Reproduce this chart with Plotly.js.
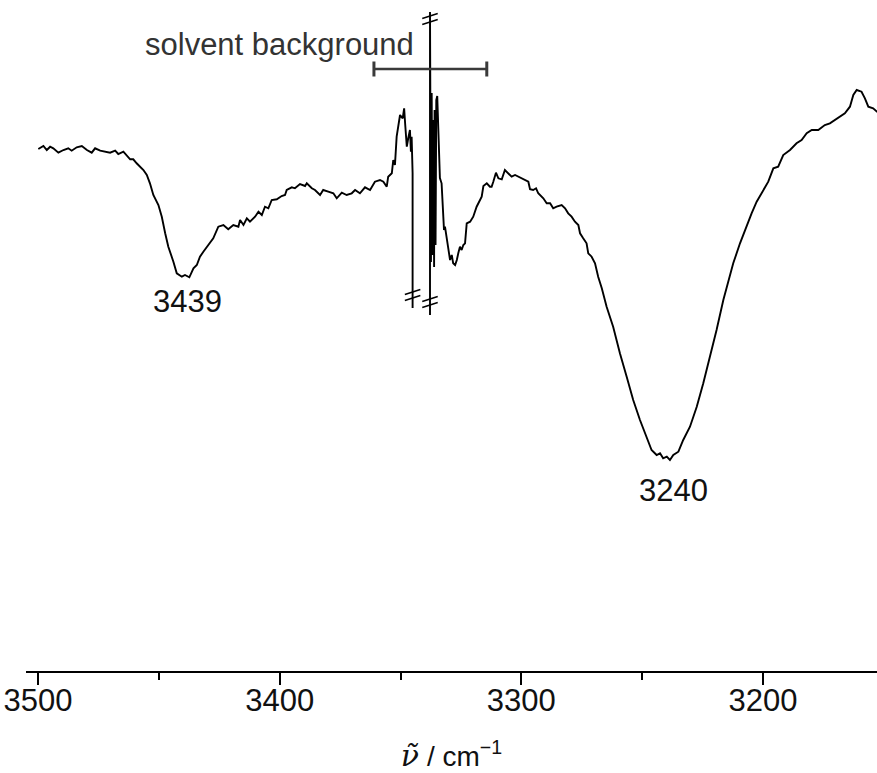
<!DOCTYPE html>
<html>
<head>
<meta charset="utf-8">
<script src="https://cdn.plot.ly/plotly-3.0.1.min.js"></script>
<style>html,body{margin:0;padding:0;background:#fff;}#chart{width:877px;height:773px;}</style>
</head>
<body>
<div id="chart"></div>
<script>
// IR spectrum, wavenumber (cm^-1) vs transmittance (arbitrary units); null = off-scale break
const wavenumber = [
3499.9,3497.8,3496.4,3495.0,3493.7,3491.6,3489.5,3487.5,3486.1,3484.0,
3481.9,3479.8,3477.8,3476.4,3474.3,3472.3,3470.2,3468.1,3466.8,3464.7,
3463.3,3461.9,3460.6,3459.2,3456.4,3455.0,3453.7,3452.3,3450.2,3448.8,
3447.4,3446.1,3444.0,3442.6,3440.5,3439.2,3437.4,3435.7,3434.3,3433.0,
3431.6,3430.2,3427.5,3425.4,3423.3,3421.3,3419.2,3417.1,3416.4,3415.0,
3413.6,3412.3,3410.2,3408.8,3407.4,3406.1,3404.7,3403.3,3401.2,3399.2,
3397.8,3397.1,3395.0,3393.7,3391.6,3389.5,3388.8,3386.7,3385.4,3383.3,
3382.0,3379.9,3377.8,3376.4,3374.3,3372.3,3370.2,3368.8,3366.8,3364.7,
3362.6,3360.6,3358.5,3357.1,3355.7,3355.1,3353.6,3353.0,3352.3,3351.6,
3350.9,3350.2,3349.1,3348.5,3348.1,3347.4,3346.8,3346.1,3345.7,3345.4,
3345.0,3345.0,null,
3337.8,3337.8,3337.4,3337.1,3336.8,3336.4,3336.1,3335.9,3335.5,3335.2,
3334.8,3334.4,3333.7,3333.0,3332.5,3332.0,3331.6,3330.9,3330.2,3329.5,
3328.8,3328.2,3327.4,3326.7,3326.1,3325.4,3324.7,3324.0,3323.3,3322.6,
3321.2,3319.9,3318.5,3317.1,3316.4,3315.7,3314.3,3313.0,3312.3,3311.6,
3310.5,3309.5,3308.1,3306.8,3305.4,3304.0,3302.6,3301.3,3299.8,3298.5,
3297.1,3296.4,3295.1,3293.9,3293.0,3290.9,3289.5,3288.1,3286.8,3285.4,
3283.3,3281.9,3280.6,3279.2,3277.8,3276.4,3275.7,3274.4,3273.0,3272.3,
3270.9,3269.5,3268.2,3266.7,3264.7,3262.0,3259.2,3256.4,3253.7,3250.9,
3248.1,3246.1,3244.0,3242.6,3241.3,3239.8,3238.5,3237.1,3235.0,3233.0,
3230.2,3227.4,3224.7,3221.9,3219.2,3216.4,3214.4,3212.3,3209.5,3207.5,
3204.7,3202.6,3199.9,3197.8,3195.7,3193.7,3191.6,3188.8,3186.1,3184.0,
3181.9,3179.8,3177.1,3174.4,3172.3,3170.2,3168.1,3166.1,3164.0,3162.6,
3161.2,3159.2,3157.8,3156.4,3154.4,3152.8,3151.0
];
const transmittance = [
52.2,52.5,52.1,52.43,52.27,51.83,52.1,52.27,52.03,52.37,
52.5,52.1,51.83,52.27,52.03,51.93,51.83,52.03,51.7,51.93,
51.6,51.17,51.17,50.77,50.1,49.6,48.77,47.6,46.6,45.43,
43.77,42.43,40.93,39.77,39.43,39.6,39.37,40.27,40.6,41.43,
41.93,42.37,43.27,44.43,44.6,44.17,44.6,44.43,45.1,44.6,
45.27,44.93,45.43,45.93,45.6,46.43,46.27,47.1,47.17,47.5,
47.6,48.1,48.37,48.27,48.7,48.5,48.77,48.27,48.1,47.6,
48.1,47.93,47.77,47.27,47.83,47.6,47.77,48.1,47.77,48.37,
48.1,48.93,49.1,48.93,48.43,49.43,49.77,51.1,50.6,53.43,
54.77,55.6,55.27,56.27,54.77,52.43,53.27,54.1,51.93,53.43,
49.77,36.3,null,
35.6,65.9,40.9,57.8,41.6,55.1,40.4,56.1,42.6,57.1,
57.5,53.8,49.3,48.77,45.43,44.1,44.43,43.43,42.1,41.1,
41.6,40.77,40.6,41.1,41.77,42.43,42.1,42.6,42.77,44.77,
44.93,45.43,46.43,47.1,47.43,48.5,48.77,48.43,48.43,48.93,
49.83,49.27,49.17,50.1,49.77,49.43,49.6,49.43,49.27,49.1,
48.93,48.17,48.1,48.27,47.77,47.27,46.77,46.77,46.27,46.43,
46.6,46.27,45.77,45.43,44.93,44.6,43.77,43.27,42.77,41.77,
41.43,40.77,39.43,38.27,36.43,34.43,31.77,29.43,27.1,25.1,
23.43,22.1,21.6,21.77,21.27,21.43,21.1,21.6,21.93,23.1,
24.43,26.43,28.77,31.43,34.1,37.1,38.77,40.77,42.77,44.1,
45.77,46.93,48.1,48.93,50.27,50.43,51.6,52.1,52.77,53.1,
53.77,54.1,54.1,54.6,54.77,55.1,55.43,55.77,56.43,57.6,
58.1,57.93,57.27,56.43,56.27,55.93,55.8
];
// peak labels
const peakNu = [3438.3, 3237.1];
const peakLabelT = [37.0, 18.1];
const peakText = ["3439", "3240"];
// solvent background annotation
const solventRange = [3361.0, 3314.3];
const solventBarT = 60.2;
const solventLabel = "solvent background";
const solventLabelNu = 3400.0;
const solventLabelT = 62.7;
// axis-break marks (position on the off-scale lines)
const breakNu = [3345.0, 3337.8, 3337.8];
const breakT = [37.6, 36.9, 65.2];
// axis ticks
const tickVals = [3500, 3400, 3300, 3200];
const tickText = ["3500", "3400", "3300", "3200"];

const shapes = [];
const barColor = "#3a3a3a";
shapes.push({type:"line", xref:"x", yref:"y", x0:solventRange[0], x1:solventRange[1], y0:solventBarT, y1:solventBarT, line:{color:barColor, width:2.5}});
solventRange.forEach(v => shapes.push({type:"line", xref:"x", yref:"y", x0:v, x1:v, y0:solventBarT-0.75, y1:solventBarT+0.75, line:{color:barColor, width:3}}));
breakNu.forEach((nu, i) => {
  [-0.3, 0.3].forEach(off => {
    shapes.push({type:"line", xref:"x", yref:"y",
      x0: nu + 3.2, y0: breakT[i] + off - 0.25,
      x1: nu - 3.2, y1: breakT[i] + off + 0.25,
      line:{color:"#000", width:1.5}});
  });
});

const annotations = [];
peakNu.forEach((nu, i) => annotations.push({x:nu, y:peakLabelT[i], xref:"x", yref:"y", text:peakText[i], showarrow:false, font:{size:31, color:"#111"}, xanchor:"center", yanchor:"middle"}));
annotations.push({x:solventLabelNu, y:solventLabelT, xref:"x", yref:"y", text:solventLabel, showarrow:false, font:{size:31, color:"#333"}, xanchor:"center", yanchor:"middle"});

const trace = {x: wavenumber, y: transmittance, type:"scatter", mode:"lines", connectgaps:false,
  line:{color:"#000", width:1.9}, hoverinfo:"x+y"};

const layout = {
  width:877, height:773,
  margin:{l:26, r:0, t:0, b:102},
  paper_bgcolor:"#fff", plot_bgcolor:"#fff",
  font:{family:"Liberation Sans, Arial, sans-serif", color:"#000"},
  showlegend:false,
  xaxis:{range:[3505, 3152.8], showgrid:false, zeroline:false, showline:true, linecolor:"#000", linewidth:2,
    ticks:"outside", ticklen:12, tickwidth:2, tickcolor:"#000",
    tickvals:tickVals, ticktext:tickText, tickfont:{size:31, color:"#111"}, ticklabelstandoff:-11,
    minor:{dtick:50, tick0:3500, ticks:"outside", ticklen:7, tickwidth:2, tickcolor:"#000", showgrid:false},
    title:{text:'<span style="font-family:DejaVu Serif;font-style:italic;font-size:30px">ν̃</span> / cm<sup>−1</sup>', font:{size:28, color:"#111"}, standoff:32}},
  yaxis:{range:[0, 67.1], visible:false, showgrid:false, zeroline:false},
  shapes:shapes, annotations:annotations
};
Plotly.newPlot("chart", [trace], layout, {displayModeBar:false, staticPlot:true});
</script>
</body>
</html>
